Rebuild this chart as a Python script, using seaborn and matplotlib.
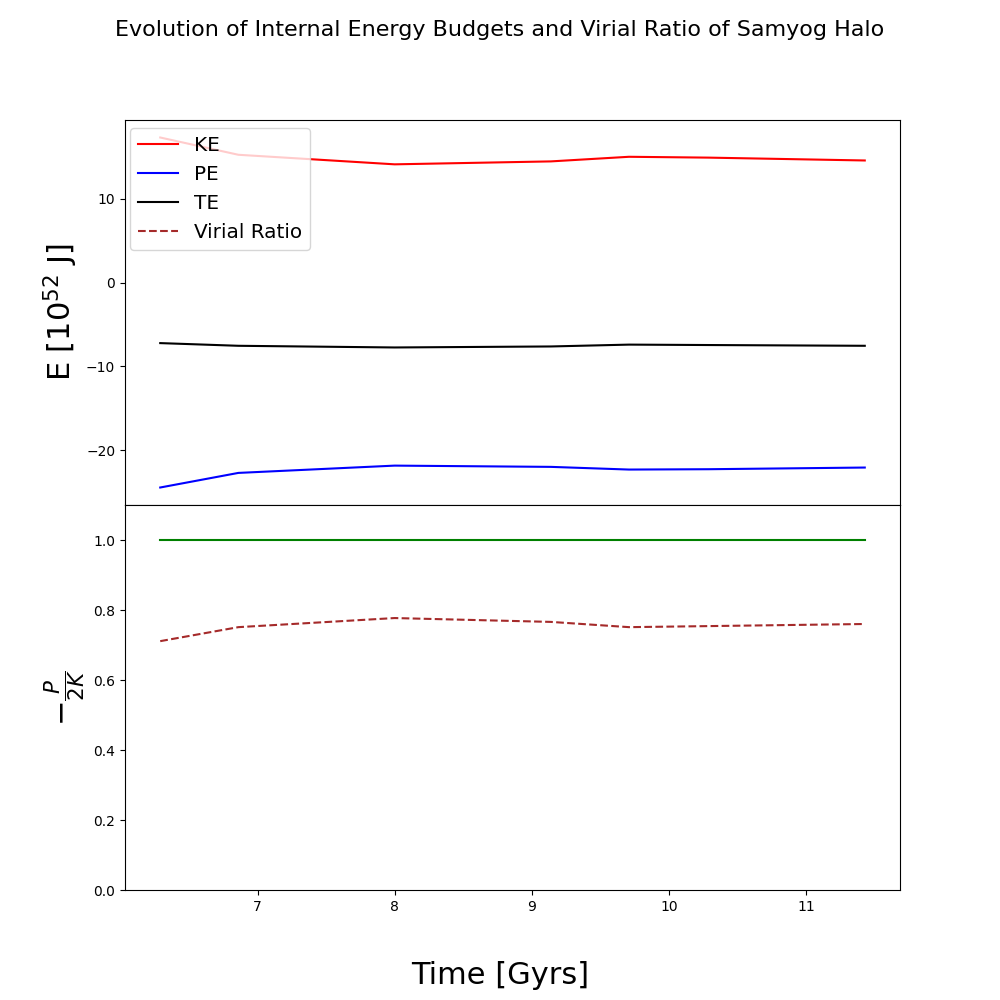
import matplotlib
matplotlib.use("Agg")
import matplotlib.pyplot as plt
import seaborn as sns
import pandas as pd
from matplotlib.lines import Line2D

time_gyr = [6.29, 6.86, 8.0, 9.14, 9.71, 10.29, 11.43]
ke = [17.3, 15.24, 14.1, 14.45, 15.0, 14.9, 14.56]
pe = [-24.44, -22.7, -21.83, -21.98, -22.3, -22.26, -22.06]
te = [-7.22, -7.54, -7.74, -7.62, -7.4, -7.45, -7.54]
virial = [0.711, 0.751, 0.777, 0.766, 0.751, 0.754, 0.760]
ideal = [1.0] * len(time_gyr)

df = pd.DataFrame({"t": time_gyr, "KE": ke, "PE": pe, "TE": te,
                   "VR": virial, "ideal": ideal})

fig, (ax1, ax2) = plt.subplots(2, 1, figsize=(10, 10), dpi=100, sharex=True)
fig.subplots_adjust(hspace=0)

sns.lineplot(data=df, x="t", y="KE", color="red", ax=ax1, label="KE")
sns.lineplot(data=df, x="t", y="PE", color="blue", ax=ax1, label="PE")
sns.lineplot(data=df, x="t", y="TE", color="black", ax=ax1, label="TE")

sns.lineplot(data=df, x="t", y="ideal", color="green", ax=ax2)
sns.lineplot(data=df, x="t", y="VR", color="brown", linestyle="--", ax=ax2)
ax2.set_ylim(0, 1.1)

handles = [Line2D([], [], color="red"), Line2D([], [], color="blue"),
           Line2D([], [], color="black"),
           Line2D([], [], color="brown", linestyle="--")]
ax1.legend(handles, ["KE", "PE", "TE", "Virial Ratio"], loc="upper left",
           fontsize=14.4, borderaxespad=0,
           bbox_to_anchor=(0.0065, 0.979))

ax1.set_xlabel("")
ax2.set_xlabel("")
ax1.set_ylabel(r"E [$10^{52}$ J]", fontsize=22)
ax2.set_ylabel(r"$-\frac{P}{2K}$", fontsize=22)

fig.suptitle("Evolution of Internal Energy Budgets and Virial Ratio of Samyog Halo",
             fontsize=16)
fig.supxlabel("Time [Gyrs]", fontsize=22)

fig.savefig("out.png", dpi=100)
